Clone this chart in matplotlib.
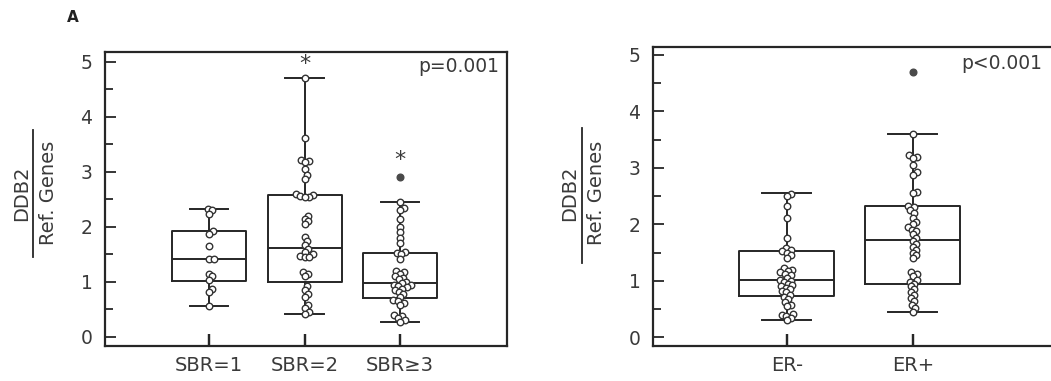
import matplotlib
matplotlib.use("Agg")
import matplotlib.pyplot as plt
import numpy as np
from matplotlib.lines import Line2D, TICKUP

# panel 1: SBR grade
sbr_labels = ["SBR=1", "SBR=2", "SBR≥3"]
sbr1 = [2.33, 2.30, 2.24, 1.92, 1.88, 1.65, 1.42, 1.42, 1.15, 1.10, 1.04, 0.88, 0.82, 0.56]
sbr2 = [4.70, 3.62, 3.22, 3.20, 3.18, 3.05, 2.95, 2.88, 2.60, 2.58, 2.57, 2.55, 2.55,
        2.20, 2.15, 2.10, 2.05, 1.82, 1.75, 1.68, 1.60, 1.55, 1.50, 1.48, 1.45, 1.45,
        1.18, 1.15, 1.10, 0.92, 0.85, 0.78, 0.72, 0.58, 0.52, 0.45, 0.42]
sbr3 = [2.45, 2.35, 2.30, 2.15, 2.00, 1.90, 1.80, 1.70, 1.55, 1.52, 1.50, 1.42, 1.20,
        1.18, 1.15, 1.10, 1.08, 1.05, 1.00, 0.98, 0.95, 0.95, 0.92, 0.90, 0.88, 0.85,
        0.82, 0.78, 0.72, 0.68, 0.65, 0.62, 0.58, 0.40, 0.38, 0.35, 0.30, 0.28]
sbr_q1 = [1.01, 0.99, 0.71]
sbr_med = [1.42, 1.62, 0.98]
sbr_q3 = [1.92, 2.58, 1.53]
sbr_lo = [0.56, 0.42, 0.28]
sbr_hi = [2.33, 4.70, 2.45]
sbr_fliers = [[], [], [2.91]]
sbr_stars = [None, 4.97, 3.22]

# panel 2: ER status
er_labels = ["ER-", "ER+"]
er_neg = [2.53, 2.50, 2.32, 2.12, 1.75, 1.58, 1.55, 1.52, 1.50, 1.45, 1.40, 1.22, 1.20,
          1.18, 1.15, 1.12, 1.10, 1.05, 1.02, 1.00, 0.98, 0.95, 0.92, 0.90, 0.88, 0.85,
          0.82, 0.80, 0.75, 0.72, 0.68, 0.62, 0.58, 0.55, 0.42, 0.40, 0.38, 0.35, 0.30]
er_pos = [3.60, 3.22, 3.20, 3.18, 3.05, 2.92, 2.88, 2.58, 2.55, 2.32, 2.30, 2.25, 2.20,
          2.12, 2.05, 2.00, 1.95, 1.90, 1.88, 1.82, 1.75, 1.70, 1.65, 1.60, 1.55, 1.50,
          1.45, 1.40, 1.15, 1.12, 1.08, 1.02, 0.98, 0.95, 0.90, 0.85, 0.80, 0.75, 0.70,
          0.65, 0.58, 0.52, 0.45]
er_q1 = [0.73, 0.94]
er_med = [1.02, 1.72]
er_q3 = [1.52, 2.33]
er_lo = [0.30, 0.44]
er_hi = [2.55, 3.60]
er_fliers = [[], [4.69]]

LINE = "#262626"
TXT = "#3a3a3a"
plt.rcParams["font.family"] = ["DejaVu Sans"]
plt.rcParams.update({
    "xtick.direction": "in", "ytick.direction": "in",
    "xtick.major.size": 9, "xtick.major.width": 1.6, "xtick.color": LINE,
    "ytick.major.size": 8, "ytick.major.width": 1.3, "ytick.color": LINE,
    "ytick.minor.size": 6, "ytick.minor.width": 1.3,
    "xtick.labelcolor": TXT, "ytick.labelcolor": TXT,
})


def swarm_offsets(ax, xc, vals, d):
    # simple beeswarm in pixel space, d = min distance between centres (px)
    tr = ax.transData
    pts = tr.transform(np.column_stack([np.full(len(vals), xc), vals]))
    x0 = pts[0, 0]
    order = np.argsort(pts[:, 1])
    placed = []
    out = np.zeros(len(vals))
    for i in order:
        y = pts[i, 1]
        near = [(px, py) for px, py in placed if abs(py - y) < d]
        cands = [x0]
        for px, py in near:
            dx = np.sqrt(d * d - (py - y) ** 2)
            cands += [px + dx, px - dx]
        cands.sort(key=lambda c: abs(c - x0))
        for c in cands:
            if all((c - px) ** 2 + (y - py) ** 2 >= d * d - 1e-6 for px, py in near):
                placed.append((c, y))
                out[i] = c
                break
    xs = tr.inverted().transform(np.column_stack([out, pts[:, 1]]))[:, 0]
    return xs


def draw_panel(ax, groups, labels, q1, med, q3, lo, hi, fliers, width, capw, ylim, xlim, ptext, pxy, pha):
    ax.set_xlim(*xlim)
    ax.set_ylim(*ylim)
    stats = []
    for i in range(len(labels)):
        stats.append(dict(q1=q1[i], med=med[i], q3=q3[i], whislo=lo[i], whishi=hi[i],
                          fliers=fliers[i]))
    lp = dict(color=LINE, linewidth=1.4)
    ax.bxp(stats, positions=list(range(len(labels))), widths=width, capwidths=capw,
           boxprops=lp, whiskerprops=lp, capprops=lp, medianprops=lp,
           flierprops=dict(marker="o", markerfacecolor="#4a4a4a", markeredgecolor="#4a4a4a",
                           markersize=4.8), zorder=2, manage_ticks=False)
    ax.set_xlim(*xlim)
    ax.set_ylim(*ylim)
    for i, g in enumerate(groups):
        xs = swarm_offsets(ax, i, g, 4.6)
        ax.scatter(xs, g, s=22, facecolor="white", edgecolor="#333333", linewidth=1.0, zorder=3)
    pos = list(range(len(labels)))
    ax.set_xticks(pos, labels, fontsize=14)
    ax.set_yticks([0, 1, 2, 3, 4, 5])
    ax.set_yticks([0.5, 1.5, 2.5, 3.5, 4.5], minor=True)
    ax.tick_params(axis="x", which="major", bottom=True, pad=7)
    ax.tick_params(axis="y", which="major", labelsize=13.5, pad=9)
    # category tick marks drawn explicitly on the bottom spine
    ax.plot(pos, [0] * len(pos), linestyle="none", marker=TICKUP, markersize=9,
            markeredgewidth=1.6, color=LINE, transform=ax.get_xaxis_transform(),
            clip_on=False, zorder=4)
    for s in ax.spines.values():
        s.set_linewidth(1.6)
        s.set_color(LINE)
    ax.text(pxy[0], pxy[1], ptext, transform=ax.transAxes, ha=pha, va="center",
            fontsize=13.5, color=TXT)


fig = plt.figure(figsize=(10.51, 3.81), dpi=100)
ax1 = fig.add_axes([0.0999, 0.0919, 0.3825, 0.7717])
ax2 = fig.add_axes([0.6213, 0.0919, 0.3815, 0.7848])

draw_panel(ax1, [sbr1, sbr2, sbr3], sbr_labels, sbr_q1, sbr_med, sbr_q3, sbr_lo, sbr_hi,
           sbr_fliers, 0.775, 0.40, (-0.164, 5.18), (-1.09, 3.12), "p=0.001", (0.98, 0.949), "right")
draw_panel(ax2, [er_neg, er_pos], er_labels, er_q1, er_med, er_q3, er_lo, er_hi,
           er_fliers, 0.754, 0.39, (-0.154, 5.14), (-1.063, 2.12), "p<0.001", (0.77, 0.946), "left")

for i, s in enumerate(sbr_stars):
    if s is not None:
        ax1.text(i, s, "*", ha="center", va="center", fontsize=16, color=TXT)

# fraction-style y labels
for xd, xr, xl, y0, y1 in [(22, 48, 33, 130, 257), (570, 597, 582, 128, 263)]:
    yc = 1 - 193 / 381
    fig.text(xd / 1051, yc, "DDB2", rotation=90, ha="center", va="center", fontsize=14, color=TXT)
    fig.text(xr / 1051, yc, "Ref. Genes", rotation=90, ha="center", va="center", fontsize=14, color=TXT)
    fig.add_artist(Line2D([xl / 1051, xl / 1051], [1 - y0 / 381, 1 - y1 / 381],
                          transform=fig.transFigure, color=LINE, linewidth=1.3))

fig.text(73 / 1051, 1 - 18 / 381, "A", ha="center", va="center", fontsize=11,
         fontweight="bold", color="#222222")

fig.savefig("out.png", dpi=100)
